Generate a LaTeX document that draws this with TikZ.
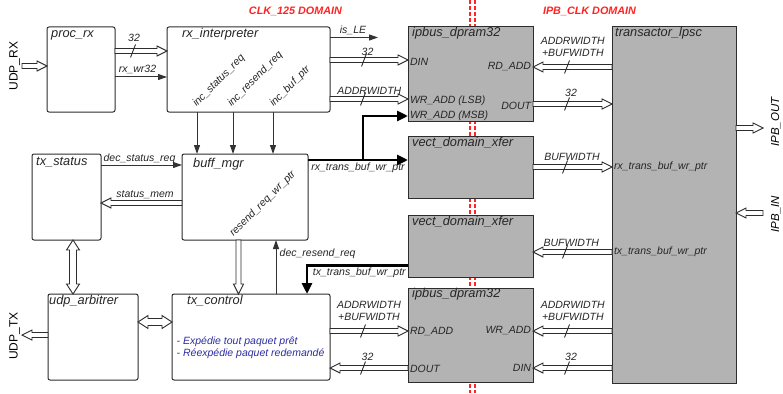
\documentclass[tikz,border=0pt]{standalone}
\usepackage{fontspec}
\setmainfont{Liberation Sans}
\usetikzlibrary{calc,arrows.meta}
\definecolor{gfill}{RGB}{179,179,179}
\definecolor{bord}{RGB}{45,45,45}
\definecolor{dred}{RGB}{255,35,35}
\definecolor{dblue}{RGB}{45,45,160}
\newcommand\fT{\fontsize{12.8}{14}\selectfont\itshape}
\newcommand\fL{\fontsize{10.5}{11.7}\selectfont\itshape}
\newcommand\fP{\fontsize{12}{14}\selectfont}
\newcommand\fI{\fontsize{11.5}{13}\selectfont\itshape}
\newcommand\fD{\fontsize{10.8}{13}\selectfont\bfseries\itshape}
\tikzset{
  box/.style={draw=bord, line width=1pt, rounded corners=2pt, fill=white, anchor=north west, inner sep=0pt, outer sep=0pt},
  gbox/.style={box, fill=gfill, rounded corners=0pt},
  ttl/.style={font=\fT, anchor=base west, inner sep=0pt, text=black!85},
  lbl/.style={font=\fL, inner sep=0pt, anchor=base, text=black!85},
  lblw/.style={lbl, anchor=base west},
  lblr/.style={lbl, anchor=base west, rotate=45},
  portw/.style={font=\fL, inner sep=1.8pt, text height=7.6pt, text depth=0pt, anchor=west, text=black!85},
  porte/.style={portw, anchor=east},
  hollow/.style={draw=bord, fill=white, line width=0.9pt, to path={
    ($(\tikztostart)!2.5pt!-90:(\tikztotarget)$)
    -- ($(\tikztotarget)!10.308pt!14.036:(\tikztostart)$)
    -- ($(\tikztotarget)!11.180pt!26.565:(\tikztostart)$)
    -- (\tikztotarget)
    -- ($(\tikztotarget)!11.180pt!-26.565:(\tikztostart)$)
    -- ($(\tikztotarget)!10.308pt!-14.036:(\tikztostart)$)
    -- ($(\tikztostart)!2.5pt!90:(\tikztotarget)$)
    -- cycle}},
  hollowtwo/.style={draw=bord, fill=white, line width=0.9pt, to path={
    (\tikztostart)
    -- ($(\tikztostart)!11.927pt!-33.02:(\tikztotarget)$)
    -- ($(\tikztostart)!10.595pt!-19.29:(\tikztotarget)$)
    -- ($(\tikztotarget)!10.595pt!19.29:(\tikztostart)$)
    -- ($(\tikztotarget)!11.927pt!33.02:(\tikztostart)$)
    -- (\tikztotarget)
    -- ($(\tikztotarget)!11.927pt!-33.02:(\tikztostart)$)
    -- ($(\tikztotarget)!10.595pt!-19.29:(\tikztostart)$)
    -- ($(\tikztostart)!10.595pt!19.29:(\tikztotarget)$)
    -- ($(\tikztostart)!11.927pt!33.02:(\tikztotarget)$)
    -- cycle}},
  thinarr/.style={draw=black!80, line width=1pt, -{Triangle[length=9pt,width=6pt]}},
  thickarr/.style={draw=black, line width=2.8pt, -{Triangle[length=11pt,width=10pt]}},
  slashpic/.pic={\draw[draw=bord, line width=0.9pt] (-2.5,6.5) -- (2.5,-6.5);},
  reddash/.style={draw=dred, line width=2pt, dash pattern=on 4pt off 2pt},
}
\begin{document}
\begin{tikzpicture}[x=1pt,y=-1pt]
\useasboundingbox (0,0) rectangle (783,393);
\fill[white] (0,0) rectangle (783,393);
% clock domain boundary
\draw[reddash] (469.5,0) -- (469.5,393);
\draw[reddash] (474.5,0) -- (474.5,393);
% boxes
\node[box, minimum width=68pt, minimum height=85pt] (procrx) at (47,27) {};
\node[box, minimum width=163pt, minimum height=85pt] (rxint) at (167,27) {};
\node[gbox, minimum width=125pt, minimum height=94pt] (dpa) at (408,27) {};
\node[gbox, minimum width=124pt, minimum height=356pt] (trans) at (612,27) {};
\node[gbox, minimum width=125pt, minimum height=62pt] (vxa) at (408,136) {};
\node[gbox, minimum width=125pt, minimum height=62pt] (vxb) at (408,215) {};
\node[gbox, minimum width=125pt, minimum height=94pt] (dpb) at (408,288) {};
\node[box, minimum width=69pt, minimum height=86pt] (txstat) at (32,154) {};
\node[box, minimum width=126pt, minimum height=86pt] (buff) at (182,154) {};
\node[box, minimum width=90pt, minimum height=86pt] (udp) at (48,294) {};
\node[box, minimum width=158pt, minimum height=86pt] (txc) at (172,294) {};
% titles
\node[ttl] (tprocrx) at ($(procrx.north west)+(4,10.3)$) {proc\_rx};
\node[ttl] (trxint) at ($(rxint.north west)+(15,10.3)$) {rx\_interpreter};
\node[ttl] (tdpa) at ($(dpa.north west)+(4,9.8)$) {ipbus\_dpram32};
\node[ttl] (ttrans) at ($(trans.north west)+(3,9.8)$) {transactor\_lpsc};
\node[ttl] (tvxa) at ($(vxa.north west)+(4,10.6)$) {vect\_domain\_xfer};
\node[ttl] (tvxb) at ($(vxb.north west)+(4,10.6)$) {vect\_domain\_xfer};
\node[ttl] (tdpb) at ($(dpb.north west)+(4,9.6)$) {ipbus\_dpram32};
\node[ttl] (ttxstat) at ($(txstat.north west)+(4,11)$) {tx\_status};
\node[ttl] (tbuff) at ($(buff.north west)+(11,13)$) {buff\_mgr};
\node[ttl] (tudp) at ($(udp.north west)+(1,10.3)$) {udp\_arbitrer};
\node[ttl] (ttxc) at ($(txc.north west)+(15,10.3)$) {tx\_control};
% domain labels
\node[font=\fD, text=dred, anchor=base, inner sep=0pt] (dclk) at (295.5,15) {CLK\_125 DOMAIN};
\node[font=\fD, text=dred, anchor=base, inner sep=0pt] (dipb) at (589.5,15) {IPB\_CLK DOMAIN};
% external labels
\node[font=\fP, rotate=90, anchor=base, inner sep=0pt] (udprx) at (17.5,66) {UDP\_RX};
\node[font=\fP, rotate=90, anchor=base, inner sep=0pt] (udptx) at (17.5,336) {UDP\_TX};
\node[font=\fI, rotate=90, anchor=base, inner sep=0pt] (ipbout) at (779,122) {IPB\_OUT};
\node[font=\fI, rotate=90, anchor=base, inner sep=0pt] (ipbin) at (779,214) {IPB\_IN};
% free ends
\coordinate (rxin) at (22,66);
\coordinate (txout) at (22,335);
\coordinate (isle) at (378,37.5);
\coordinate (ipbo) at (763,128);
\coordinate (ipbi) at (763,213);
\coordinate (br1) at (363,160);
% ---- connectors
\draw[hollow] (rxin) to (procrx.west |- rxin);
\draw[hollow] (procrx.east |- 0,51) to (rxint.west |- 0,51);
\draw[thinarr] (procrx.east |- 0,77) -- (rxint.west |- 0,77);
\draw[thinarr] (rxint.east |- isle) -- (isle);
\draw[hollow] (rxint.east |- 0,60) to (dpa.west |- 0,60);
\draw[hollow] (rxint.east |- 0,99) to (dpa.west |- 0,99);
\draw[thinarr] (rxint.south -| 197,0) -- (buff.north -| 197,0);
\draw[thinarr] (rxint.south -| 233,0) -- (buff.north -| 233,0);
\draw[thinarr] (rxint.south -| 273,0) -- (buff.north -| 273,0);
\draw[thickarr] (buff.east |- br1) -- (vxa.west |- br1);
\draw[thickarr] (br1) |- (dpa.west |- 0,116);
\draw[thinarr] (txstat.east |- 0,165) -- (buff.west |- 0,165);
\draw[hollow] (buff.west |- 0,203) to (txstat.east |- 0,203);
\draw[hollowtwo] (txstat.south -| 73,0) to (udp.north -| 73,0);
\draw[hollow] (udp.west |- txout) to (txout);
\draw[hollowtwo] (udp.east |- 0,322) to (txc.west |- 0,322);
\draw[hollow] (buff.south -| 238.5,0) to (txc.north -| 238.5,0);
\draw[thinarr] (txc.north -| 276,0) -- (buff.south -| 276,0);
\draw[thickarr] (vxb.west |- 0,265.5) -| (txc.north -| 307,0);
\draw[hollow] (txc.east |- 0,331) to (dpb.west |- 0,331);
\draw[hollow] (dpb.west |- 0,368) to (txc.east |- 0,368);
\draw[hollow] (trans.west |- 0,67) to (dpa.east |- 0,67);
\draw[hollow] (dpa.east |- 0,104) to (trans.west |- 0,104);
\draw[hollow] (vxa.east |- 0,167) to (trans.west |- 0,167);
\draw[hollow] (trans.west |- 0,252) to (vxb.east |- 0,252);
\draw[hollow] (trans.west |- 0,331) to (dpb.east |- 0,331);
\draw[hollow] (trans.west |- 0,368) to (dpb.east |- 0,368);
\draw[hollow] (trans.east |- ipbo) to (ipbo);
\draw[hollow] (ipbi) to (trans.east |- ipbi);
% bus-width slashes
\pic at (133,51) {slashpic};
\pic at (364,60) {slashpic};
\pic at (363,99) {slashpic};
\pic at (567,67) {slashpic};
\pic at (567,104) {slashpic};
\pic at (565,167) {slashpic};
\pic at (565,252) {slashpic};
\pic at (567,331) {slashpic};
\pic at (567,368) {slashpic};
\pic at (363,331) {slashpic};
\pic at (363,368) {slashpic};
% signal labels
\node[lbl] (l32a) at (134,42) {32};
\node[lbl] (lwr) at (137.5,72.5) {rx\_wr32};
\node[lbl] (lisle) at (353,34) {is\_LE};
\node[lbl] (l32b) at (367.5,55.5) {32};
\node[lbl] (laddr) at (369.3,94.5) {ADDRWIDTH};
\node[lblr] (lincs) at (196.5,107) {inc\_status\_req};
\node[lblr] (lincr) at (231.5,107) {inc\_resend\_req};
\node[lblr] (lincb) at (273.5,107) {inc\_buf\_ptr};
\node[lbl] (ldecs) at (139.5,161) {dec\_status\_req};
\node[lbl] (lstm) at (145,197) {status\_mem};
\node[lbl] (lrxt) at (358,170) {rx\_trans\_buf\_wr\_ptr};
\node[lblr] (lres) at (233.5,237) {resend\_req\_wr\_ptr};
\node[lblw] (ldecr) at (279.5,256) {dec\_resend\_req};
\node[lblw] (ltxt) at (312.7,275) {tx\_trans\_buf\_wr\_ptr};
\node[lbl, align=center] (lab1) at (369,320) {ADDRWIDTH\\+BUFWIDTH};
\node[lbl] (l32c) at (367.5,360) {32};
\node[lbl, align=center] (lab2) at (572.8,56.7) {ADDRWIDTH\\+BUFWIDTH};
\node[lbl] (l32d) at (571,96.7) {32};
\node[lbl] (lbw1) at (572,160.7) {BUFWIDTH};
\node[lbl] (lbw2) at (571.3,246) {BUFWIDTH};
\node[lbl, align=center] (lab3) at (572.8,320) {ADDRWIDTH\\+BUFWIDTH};
\node[lbl] (l32e) at (571,360.7) {32};
% ports
\node[portw] (pdin) at (dpa.west |- 0,61.5) {DIN};
\node[portw] (pwrl) at (dpa.west |- 0,99.5) {WR\_ADD (LSB)};
\node[portw] (pwrm) at (dpa.west |- 0,115) {WR\_ADD (MSB)};
\node[porte] (prda) at (dpa.east |- 0,66) {RD\_ADD};
\node[porte] (pdouta) at (dpa.east |- 0,105.5) {DOUT};
\node[portw] (prdb) at (dpb.west |- 0,330.5) {RD\_ADD};
\node[portw] (pdoutb) at (dpb.west |- 0,369) {DOUT};
\node[porte] (pwrb) at (dpb.east |- 0,330) {WR\_ADD};
\node[porte] (pdinb) at (dpb.east |- 0,368) {DIN};
\node[portw] (prxp) at (trans.west |- 0,166) {rx\_trans\_buf\_wr\_ptr};
\node[portw] (ptxp) at (trans.west |- 0,251) {tx\_trans\_buf\_wr\_ptr};
% tx_control notes
\node[font=\fontsize{10.5}{12}\selectfont\itshape, text=dblue, align=left, anchor=base west, inner sep=0pt] (notes) at (176.5,356) {- Expédie tout paquet prêt\\- Réexpédie paquet redemandé};
\end{tikzpicture}
\end{document}
